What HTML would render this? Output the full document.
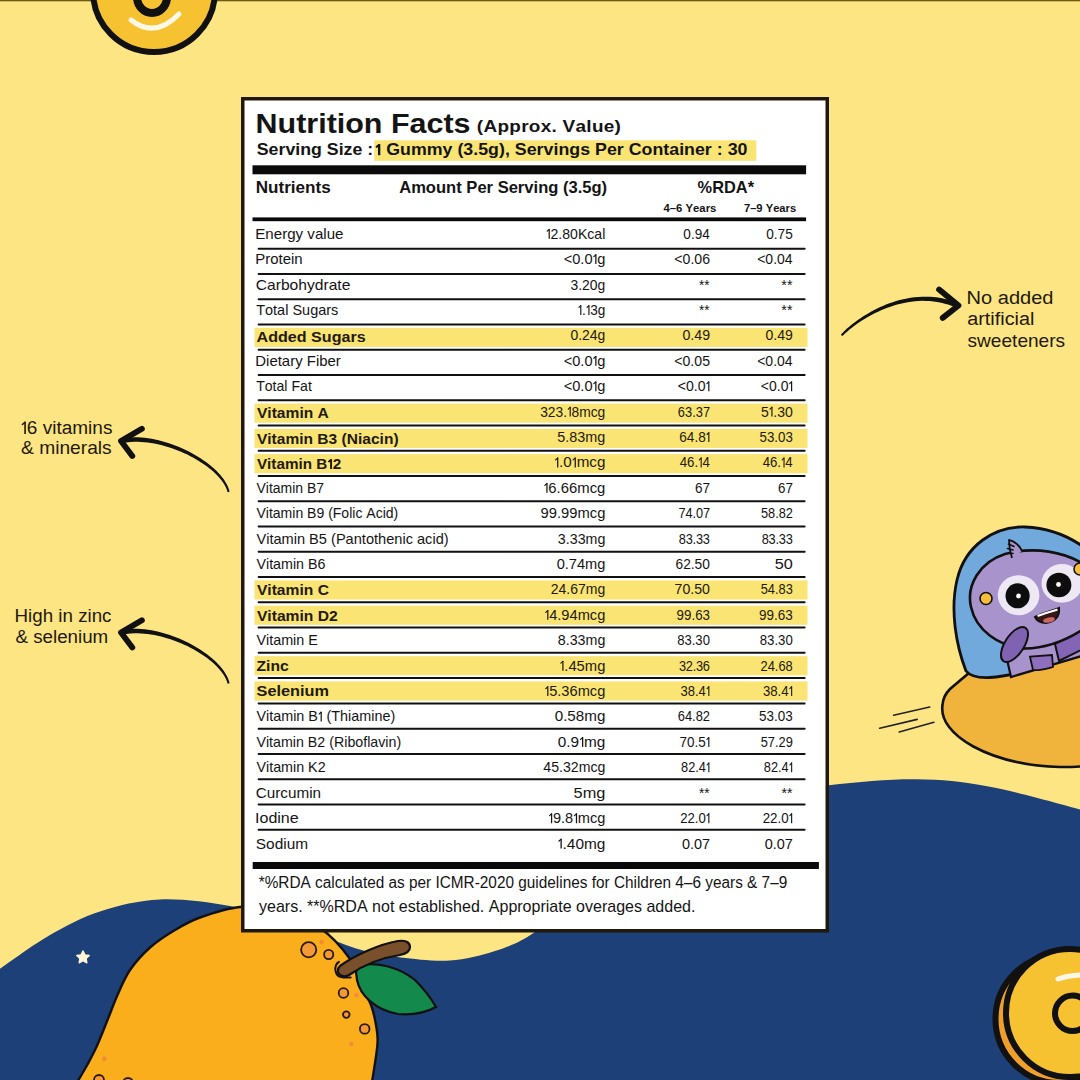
<!DOCTYPE html>
<html><head><meta charset="utf-8"><style>html,body{margin:0;padding:0;background:#FDE584;}svg{display:block;}</style></head>
<body><svg width="1080" height="1080" viewBox="0 0 1080 1080" font-family='"Liberation Sans", sans-serif'>
<rect width="1080" height="1080" fill="#FDE584"/>
<rect width="1080" height="1.3" fill="#6e5a14"/>
<!-- top-left donut -->
<g>
<circle cx="154" cy="-9" r="61" fill="#F7C232" stroke="#111" stroke-width="6"/>
<ellipse cx="152" cy="-3" rx="15" ry="16" fill="none" stroke="#111" stroke-width="8"/>
<path d="M131,20 Q155,39 179,14" fill="none" stroke="#FFF8E6" stroke-width="5" stroke-linecap="round"/>
</g>
<!-- navy wave -->
<path d="M-2.00,970.20 C-1.67,969.96 -8.67,974.62 0.00,968.75 C8.67,962.88 33.33,944.54 50.00,935.00 C66.67,925.46 81.67,917.42 100.00,911.50 C118.33,905.58 138.33,900.42 160.00,899.50 C181.67,898.58 208.33,902.25 230.00,906.00 C251.67,909.75 272.83,916.33 290.00,922.00 C307.17,927.67 320.67,935.22 333.00,940.00 C345.33,944.78 352.67,947.80 364.00,950.70 C375.33,953.60 386.67,955.78 401.00,957.40 C415.33,959.02 434.33,961.47 450.00,960.40 C465.67,959.33 480.83,955.73 495.00,951.00 C509.17,946.27 517.50,943.83 535.00,932.00 C552.50,920.17 565.83,902.00 600.00,880.00 C634.17,858.00 701.83,815.78 740.00,800.00 C778.17,784.22 799.67,788.75 829.00,785.30 C858.33,781.85 889.42,779.10 916.00,779.30 C942.58,779.50 961.17,781.48 988.50,786.50 C1015.83,791.52 1063.08,804.98 1080.00,809.40 C1096.92,813.82 1088.33,812.40 1090.00,813.00 L1090,1090 L-2,1090 Z" fill="#1D4079"/>
<!-- star -->
<path d="" />
<polygon points="83.00,951.00 84.88,954.91 89.18,955.49 86.04,958.49 86.82,962.76 83.00,960.70 79.18,962.76 79.96,958.49 76.82,955.49 81.12,954.91" fill="#FFF6D8" stroke="#FFF6D8" stroke-width="1.5" stroke-linejoin="round"/>
<!-- mango -->
<path d="M72.00,1088.00 C73.33,1086.25 76.17,1083.83 80.00,1077.50 C83.83,1071.17 90.42,1059.58 95.00,1050.00 C99.58,1040.42 103.75,1029.17 107.50,1020.00 C111.25,1010.83 113.75,1003.33 117.50,995.00 C121.25,986.67 124.58,977.92 130.00,970.00 C135.42,962.08 142.50,954.17 150.00,947.50 C157.50,940.83 166.67,935.00 175.00,930.00 C183.33,925.00 189.17,921.33 200.00,917.50 C210.83,913.67 226.67,908.25 240.00,907.00 C253.33,905.75 266.67,906.50 280.00,910.00 C293.33,913.50 308.45,920.00 320.00,928.00 C331.55,936.00 342.47,948.50 349.30,958.00 C356.13,967.50 357.38,977.17 361.00,985.00 C364.62,992.83 368.50,998.33 371.00,1005.00 C373.50,1011.67 374.93,1018.33 376.00,1025.00 C377.07,1031.67 378.23,1034.50 377.40,1045.00 C376.57,1055.50 372.07,1080.83 371.00,1088.00 Z" fill="#FBAE1C" stroke="#111" stroke-width="2.4"/>
<g fill="#F39A36" stroke="#2a1a0a" stroke-width="1.8">
<circle cx="308.7" cy="949.8" r="7.6"/>
<circle cx="328.7" cy="954.5" r="4.6"/>
<circle cx="343.5" cy="993" r="4.8"/>
<circle cx="346.3" cy="1014.6" r="3.3"/>
<circle cx="364.7" cy="1028.9" r="4.8"/>
<circle cx="99" cy="1080" r="5"/>
<circle cx="128" cy="1083" r="5"/>
</g>
<g fill="#F38B3A">
<circle cx="321.7" cy="942" r="2.2"/><circle cx="356.4" cy="995" r="2.2"/><circle cx="351.3" cy="1044" r="2.2"/>
<circle cx="104.4" cy="1059" r="2.4"/>
</g>
<!-- leaf & stem -->
<path d="M356.7,966.3 C375,960 400,968 415,980 C425,990 432,1000 436,1007 C425,1013 410,1015 398,1014 C375,1010 360,995 357,980 C356,975 356,970 356.7,966.3 Z" fill="#138A4B" stroke="#111" stroke-width="2.2"/>
<path d="M340,966 C355,955 380,944 398,941 C405,940 410,942 410,947 C410,952 405,954 400,955 C380,958 362,966 349,975 C344,978 337,975 338,970 C338,968 339,967 340,966 Z" fill="#7A4F2C" stroke="#111" stroke-width="2.2"/>
<path d="M338.9,961.9 C333,966 335,976 341,977 C345,978 348,977.5 350.7,977.4" fill="none" stroke="#111" stroke-width="2" stroke-linecap="round"/>
<!-- bottom right donut -->
<circle cx="1059.5" cy="1019" r="64" fill="#EFA02C" stroke="#111" stroke-width="6"/>
<circle cx="1070" cy="1013" r="64" fill="#F7C232" stroke="#111" stroke-width="6"/>
<circle cx="1072.7" cy="1013.3" r="17.7" fill="none" stroke="#111" stroke-width="6"/>
<path d="M1058,979 Q1070,975 1085,975" fill="none" stroke="#FFF8E6" stroke-width="5" stroke-linecap="round"/>
<!-- UFO -->
<path d="M942.5,705 C938,735 990,765 1060,767 C1070,767 1078,767 1085,766 L1085,648 C1030,656 990,666 969,673 L950,689 C946,693 943,698 942.5,705 Z" fill="#F0B43C" stroke="#111" stroke-width="2.6"/>
<path d="M893.6,715.3 L929.7,707 M879.7,728.3 L917.2,719.4 M899.2,732 L933.9,722.2" stroke="#222" stroke-width="1.6" stroke-linecap="round"/>
<!-- helmet -->
<path d="M966,671 C956,645 950,610 957,580 C965,545 995,526 1025,527 C1050,528 1070,537 1085,548 L1085,654 C1050,664 1015,676 990,677.5 C980,678 970,676 966,671 Z" fill="#71A9DD" stroke="#111" stroke-width="2.8"/>
<!-- body -->
<path d="M1006,655 L1011,677 L1085,655 L1085,626 Z" fill="#A993CD" stroke="#111" stroke-width="2.2"/>
<path d="M1030,656.7 L1052,655 L1053,667 C1045,669 1038,671 1033,670 Z" fill="#8E6FBE" stroke="#111" stroke-width="1.8"/>
<path d="M1055,644 L1085,627 L1085,648 L1059,661 Z" fill="#8465B5" stroke="#111" stroke-width="2"/>
<!-- head -->
<path d="M1085,565 C1065,552 1035,546 1005,554 C980,562 966,585 971,607 C976,630 998,646 1025,648.5 C1050,648 1070,638 1085,628 Z" fill="#A993CD" stroke="#111" stroke-width="2.6"/>
<path d="M1012,558 C1010,552 1009,546 1009,540 C1014,541 1019,545 1022,551" fill="#A993CD" stroke="#111" stroke-width="1.8" stroke-linejoin="round"/>
<path d="M1008.5,544 L1014,546.5 M1007.5,548.5 L1013,550 M1009,553 L1013,553.5" stroke="#111" stroke-width="1.6" stroke-linecap="round"/>
<ellipse cx="1018.6" cy="595.2" rx="20.8" ry="20" fill="#EEE8F4"/>
<ellipse cx="1017.6" cy="595.8" rx="12.1" ry="12.5" fill="#0d0d0d"/>
<circle cx="1018.5" cy="596" r="2.4" fill="#fff"/>
<ellipse cx="1062" cy="583.4" rx="20.5" ry="19.4" fill="#EEE8F4"/>
<ellipse cx="1058.9" cy="585" rx="12.5" ry="12.2" fill="#0d0d0d"/>
<circle cx="1058.5" cy="584.5" r="2.4" fill="#fff"/>
<circle cx="986" cy="598.5" r="6" fill="#F5BE3A" stroke="#111" stroke-width="1.6"/>
<circle cx="1080" cy="569" r="6" fill="#F5BE3A" stroke="#111" stroke-width="1.6"/>
<path d="M1035,617 C1045,612 1055,610 1059,608 C1060,616 1055,622 1046,623 C1040,623 1036,620 1035,617 Z" fill="#3a1616" stroke="#111" stroke-width="2"/>
<ellipse cx="1049" cy="620" rx="6" ry="2.6" transform="rotate(-12 1049 620)" fill="#C8675F"/>
<path d="M1037.5,616 C1046,613 1053,611 1057.5,609.5" fill="none" stroke="#fff" stroke-width="2.2"/>
<ellipse cx="1014.5" cy="644.5" rx="9.5" ry="20" transform="rotate(33 1014.5 644.5)" fill="#8062B2" stroke="#111" stroke-width="2"/>
<!-- arrows -->
<path d="M229.56,491.73 L229.01,489.62 L228.24,487.46 L227.28,485.30 L226.14,483.13 L224.83,480.97 L223.35,478.82 L221.70,476.68 L219.91,474.55 L217.97,472.44 L215.89,470.35 L213.67,468.29 L211.33,466.26 L208.87,464.26 L206.30,462.30 L203.62,460.38 L200.84,458.51 L197.97,456.69 L195.01,454.93 L191.97,453.22 L188.86,451.58 L185.68,450.00 L182.44,448.50 L179.15,447.07 L175.80,445.72 L172.42,444.45 L169.00,443.27 L165.56,442.19 L162.09,441.20 L158.61,440.31 L155.11,439.53 L151.62,438.86 L148.12,438.30 L144.64,437.87 L141.17,437.55 L137.72,437.37 L134.30,437.32 L130.92,437.40 L127.57,437.63 L124.27,438.01 L121.09,438.54 L121.91,443.26 L124.97,442.69 L128.05,442.27 L131.18,441.99 L134.37,441.84 L137.61,441.82 L140.90,441.93 L144.22,442.16 L147.57,442.51 L150.94,442.98 L154.32,443.55 L157.71,444.24 L161.10,445.03 L164.48,445.93 L167.84,446.91 L171.19,447.99 L174.50,449.16 L177.78,450.41 L181.02,451.74 L184.21,453.15 L187.34,454.62 L190.41,456.16 L193.41,457.77 L196.33,459.43 L199.16,461.14 L201.91,462.91 L204.56,464.72 L207.10,466.57 L209.53,468.45 L211.84,470.37 L214.03,472.31 L216.09,474.28 L218.01,476.26 L219.78,478.26 L221.41,480.27 L222.87,482.28 L224.17,484.29 L225.31,486.29 L226.26,488.29 L227.04,490.27 L227.64,492.27Z" fill="#111"/><path d="M141.9,428.8 L121,441.0 L132.3,455.9" fill="none" stroke="#111" stroke-width="5.8" stroke-linecap="round" stroke-linejoin="round"/><path d="M229.56,683.23 L229.01,681.12 L228.24,678.96 L227.28,676.80 L226.14,674.63 L224.83,672.47 L223.35,670.32 L221.70,668.18 L219.91,666.05 L217.97,663.94 L215.89,661.85 L213.67,659.79 L211.33,657.76 L208.87,655.76 L206.30,653.80 L203.62,651.88 L200.84,650.01 L197.97,648.19 L195.01,646.43 L191.97,644.72 L188.86,643.08 L185.68,641.50 L182.44,640.00 L179.15,638.57 L175.80,637.22 L172.42,635.95 L169.00,634.77 L165.56,633.69 L162.09,632.70 L158.61,631.81 L155.11,631.03 L151.62,630.36 L148.12,629.80 L144.64,629.37 L141.17,629.05 L137.72,628.87 L134.30,628.82 L130.92,628.90 L127.57,629.13 L124.27,629.51 L121.09,630.04 L121.91,634.76 L124.97,634.19 L128.05,633.77 L131.18,633.49 L134.37,633.34 L137.61,633.32 L140.90,633.43 L144.22,633.66 L147.57,634.01 L150.94,634.48 L154.32,635.05 L157.71,635.74 L161.10,636.53 L164.48,637.43 L167.84,638.41 L171.19,639.49 L174.50,640.66 L177.78,641.91 L181.02,643.24 L184.21,644.65 L187.34,646.12 L190.41,647.66 L193.41,649.27 L196.33,650.93 L199.16,652.64 L201.91,654.41 L204.56,656.22 L207.10,658.07 L209.53,659.95 L211.84,661.87 L214.03,663.81 L216.09,665.78 L218.01,667.76 L219.78,669.76 L221.41,671.77 L222.87,673.78 L224.17,675.79 L225.31,677.79 L226.26,679.79 L227.04,681.77 L227.64,683.77Z" fill="#111"/><path d="M141.9,620.3 L121,632.5 L132.3,647.4" fill="none" stroke="#111" stroke-width="5.8" stroke-linecap="round" stroke-linejoin="round"/><path d="M842.34,336.08 L843.22,335.16 L844.25,334.15 L845.43,333.06 L846.75,331.88 L848.20,330.63 L849.80,329.31 L851.53,327.94 L853.38,326.53 L855.36,325.07 L857.46,323.59 L859.67,322.08 L861.99,320.57 L864.43,319.05 L866.97,317.53 L869.60,316.03 L872.34,314.56 L875.16,313.11 L878.08,311.70 L881.08,310.34 L884.16,309.04 L887.31,307.81 L890.54,306.64 L893.84,305.56 L897.20,304.57 L900.62,303.68 L904.09,302.90 L907.62,302.23 L911.20,301.68 L914.82,301.27 L918.48,301.00 L922.18,300.87 L925.92,300.90 L929.68,301.09 L933.47,301.46 L937.28,302.00 L941.11,302.73 L944.95,303.66 L948.81,304.80 L952.68,306.14 L956.62,307.73 L958.38,303.27 L954.31,301.70 L950.20,300.35 L946.10,299.22 L942.02,298.31 L937.97,297.61 L933.95,297.10 L929.96,296.79 L926.00,296.66 L922.09,296.70 L918.22,296.90 L914.40,297.26 L910.64,297.76 L906.93,298.40 L903.28,299.17 L899.70,300.05 L896.18,301.04 L892.73,302.13 L889.36,303.31 L886.06,304.57 L882.84,305.91 L879.71,307.31 L876.67,308.76 L873.71,310.27 L870.86,311.81 L868.10,313.38 L865.44,314.97 L862.88,316.58 L860.44,318.19 L858.11,319.80 L855.89,321.39 L853.79,322.96 L851.82,324.50 L849.97,326.00 L848.25,327.46 L846.66,328.86 L845.21,330.19 L843.90,331.46 L842.74,332.64 L841.72,333.74 L840.86,334.72Z" fill="#111"/><path d="M939.1,289.6 L958.5,305.5 L942.7,317.9" fill="none" stroke="#111" stroke-width="5.8" stroke-linecap="round" stroke-linejoin="round"/>
<!-- box -->
<rect x="242.75" y="98.75" width="584.5" height="832" fill="#fff" stroke="#21180c" stroke-width="3.5"/>
<rect x="374.3" y="140.3" width="382" height="20.5" fill="#FAE474"/>
<rect x="252.5" y="165.3" width="553.6" height="9" fill="#0a0a0a"/>
<rect x="252.5" y="217.4" width="553.6" height="3.8" fill="#0a0a0a"/>
<rect x="252.7" y="862" width="566.2" height="7" fill="#0a0a0a"/>
<rect x="254.5" y="327.78" width="553" height="19.16" fill="#FAE474"/><rect x="254.5" y="403.56" width="553" height="19.16" fill="#FAE474"/><rect x="254.5" y="428.82" width="553" height="19.16" fill="#FAE474"/><rect x="254.5" y="454.08" width="553" height="19.16" fill="#FAE474"/><rect x="254.5" y="580.38" width="553" height="19.16" fill="#FAE474"/><rect x="254.5" y="605.64" width="553" height="19.16" fill="#FAE474"/><rect x="254.5" y="656.16" width="553" height="19.16" fill="#FAE474"/><rect x="254.5" y="681.42" width="553" height="19.16" fill="#FAE474"/><line x1="258.6" y1="248.70" x2="804.6" y2="248.70" stroke="#111" stroke-width="2" stroke-linecap="round"/><line x1="258.6" y1="273.96" x2="804.6" y2="273.96" stroke="#111" stroke-width="2" stroke-linecap="round"/><line x1="258.6" y1="299.22" x2="804.6" y2="299.22" stroke="#111" stroke-width="2" stroke-linecap="round"/><line x1="258.6" y1="324.48" x2="804.6" y2="324.48" stroke="#111" stroke-width="2" stroke-linecap="round"/><line x1="258.6" y1="349.74" x2="804.6" y2="349.74" stroke="#111" stroke-width="2" stroke-linecap="round"/><line x1="258.6" y1="375.00" x2="804.6" y2="375.00" stroke="#111" stroke-width="2" stroke-linecap="round"/><line x1="258.6" y1="400.26" x2="804.6" y2="400.26" stroke="#111" stroke-width="2" stroke-linecap="round"/><line x1="258.6" y1="425.52" x2="804.6" y2="425.52" stroke="#111" stroke-width="2" stroke-linecap="round"/><line x1="258.6" y1="450.78" x2="804.6" y2="450.78" stroke="#111" stroke-width="2" stroke-linecap="round"/><line x1="258.6" y1="476.04" x2="804.6" y2="476.04" stroke="#111" stroke-width="2" stroke-linecap="round"/><line x1="258.6" y1="501.30" x2="804.6" y2="501.30" stroke="#111" stroke-width="2" stroke-linecap="round"/><line x1="258.6" y1="526.56" x2="804.6" y2="526.56" stroke="#111" stroke-width="2" stroke-linecap="round"/><line x1="258.6" y1="551.82" x2="804.6" y2="551.82" stroke="#111" stroke-width="2" stroke-linecap="round"/><line x1="258.6" y1="577.08" x2="804.6" y2="577.08" stroke="#111" stroke-width="2" stroke-linecap="round"/><line x1="258.6" y1="602.34" x2="804.6" y2="602.34" stroke="#111" stroke-width="2" stroke-linecap="round"/><line x1="258.6" y1="627.60" x2="804.6" y2="627.60" stroke="#111" stroke-width="2" stroke-linecap="round"/><line x1="258.6" y1="652.86" x2="804.6" y2="652.86" stroke="#111" stroke-width="2" stroke-linecap="round"/><line x1="258.6" y1="678.12" x2="804.6" y2="678.12" stroke="#111" stroke-width="2" stroke-linecap="round"/><line x1="258.6" y1="703.38" x2="804.6" y2="703.38" stroke="#111" stroke-width="2" stroke-linecap="round"/><line x1="258.6" y1="728.64" x2="804.6" y2="728.64" stroke="#111" stroke-width="2" stroke-linecap="round"/><line x1="258.6" y1="753.90" x2="804.6" y2="753.90" stroke="#111" stroke-width="2" stroke-linecap="round"/><line x1="258.6" y1="779.16" x2="804.6" y2="779.16" stroke="#111" stroke-width="2" stroke-linecap="round"/><line x1="258.6" y1="804.42" x2="804.6" y2="804.42" stroke="#111" stroke-width="2" stroke-linecap="round"/><line x1="258.6" y1="829.68" x2="804.6" y2="829.68" stroke="#111" stroke-width="2" stroke-linecap="round"/>
<g transform="translate(255.56 132.6) scale(1.0882 1)" fill="#141414"><text x="0 20.22 37.32 46.65 57.54 65.32 74.65 82.43 99.53 124.41 141.52 157.09 172.66 181.99" font-size="28" font-weight="bold">NutritionFacts</text></g><g transform="translate(476.85 132.2) scale(1.1500 1)" fill="#141414"><text x="0 5.74 17.89 28.21 38.53 45.19 55.51 64.93 74.58 85.82 95.24 100.06 110.38 119.8" font-size="16.5" font-weight="bold">(Approx.Value)</text></g><g transform="translate(256.79 155.2) scale(1.1096 1)" fill="#141414"><text x="0 10.67 19.57 25.8 34.7 39.14 48.91 63.13 73.8 78.25 86.25 99.59" font-size="16" font-weight="bold">ServingSize:</text></g><g transform="translate(374.81 155.2) scale(1.1132 1)" fill="#141414"><text x="10.21 22.65 32.42 46.65 60.88 74.22 79.55 88.45 92.89 101.79 111.56 116.89 125.78 136.46 145.35 151.58 160.48 164.92 174.7 184.47 197.81 208.49 217.38 228.06 239.61 249.38 259.16 264.49 273.38 277.83 287.6 296.5 307.17 316.95 325.85" font-size="16" font-weight="bold">Gummy(3.5g),ServingsPerContainer:30</text><path d="M2.88,-11.01H4.96V0H2.88Z"/><path d="M1.74,-8.45L3.71,-10.07" fill="none" stroke="#141414" stroke-width="1.98" stroke-linecap="round"/></g><g transform="translate(255.66 193.1) scale(1.0362 1)" fill="#141414"><text x="0 11.92 21.99 27.49 33.91 38.49 47.67 57.75 63.24" font-size="16.5" font-weight="bold">Nutrients</text></g><g transform="translate(399.19 193) scale(1.0036 1)" fill="#141414"><text x="0 11.92 26.59 36.67 46.74 56.82 66.9 77.91 87.08 98.09 109.09 118.27 124.69 133.87 138.45 148.53 163.2 168.69 177.87 182.45 191.63 201.71" font-size="16.5" font-weight="bold">AmountPerServing(3.5g)</text></g><g transform="translate(697.59 192.8) scale(0.9927 1)" fill="#141414"><text x="0 14.67 26.59 38.5 50.42" font-size="16.5" font-weight="bold">%RDA*</text></g><g transform="translate(663.53 211.8) scale(0.9586 1)" fill="#141414"><text x="0 6.56 13.13 22.97 30.84 37.4 43.96 48.55" font-size="11.8" font-weight="bold">4–6Years</text></g><g transform="translate(743.92 211.8) scale(0.9478 1)" fill="#141414"><text x="0 6.56 13.13 22.97 30.84 37.4 43.96 48.55" font-size="11.8" font-weight="bold">7–9Years</text></g><g transform="translate(255.26 238.7) scale(1.0643 1)" fill="#141414"><text x="0 9.47 17.37 25.27 29.99 37.89 48.94 56.04 63.93 67.09 74.99" font-size="14.2">Energyvalue</text></g><g transform="translate(546 238.7) scale(0.9923 1)" fill="#141414"><text x="4.54 12.44 16.39 24.28 32.18 41.65 48.75 56.65" font-size="14.2">2.80Kcal</text><path d="M2.63,-9.77H3.83V0H2.63Z"/><path d="M1.25,-7.5L3.11,-9.23" fill="none" stroke="#141414" stroke-width="1.15" stroke-linecap="round"/></g><g transform="translate(683.37 238.7) scale(0.9563 1)" fill="#141414"><text x="0 7.9 11.84 19.74" font-size="14.2">0.94</text></g><g transform="translate(766.27 238.7) scale(0.9590 1)" fill="#141414"><text x="0 7.9 11.84 19.74" font-size="14.2">0.75</text></g><g transform="translate(255.27 264.11) scale(1.0535 1)" fill="#141414"><text x="0 9.47 14.2 22.1 26.04 33.94 37.09" font-size="14.2">Protein</text></g><g transform="translate(563.68 264.11) scale(1.0294 1)" fill="#141414"><text x="0 8.29 16.19 20.14 32.58" font-size="14.2">&lt;0.0g</text><path d="M30.66,-9.77H31.87V0H30.66Z"/><path d="M29.29,-7.5L31.14,-9.23" fill="none" stroke="#141414" stroke-width="1.15" stroke-linecap="round"/></g><g transform="translate(674.3 264.11) scale(0.9941 1)" fill="#141414"><text x="0 8.29 16.19 20.14 28.03" font-size="14.2">&lt;0.06</text></g><g transform="translate(757.21 264.11) scale(0.9852 1)" fill="#141414"><text x="0 8.29 16.19 20.14 28.03" font-size="14.2">&lt;0.04</text></g><g transform="translate(255.71 289.52) scale(1.1005 1)" fill="#141414"><text x="0 10.25 18.15 22.88 30.78 38.68 46.57 53.67 61.57 66.3 74.2 78.14" font-size="14.2">Carbohydrate</text></g><g transform="translate(570.47 289.52) scale(0.9801 1)" fill="#141414"><text x="0 7.9 11.84 19.74 27.64" font-size="14.2">3.20g</text></g><g transform="translate(699.08 289.52) scale(0.9527 1)" fill="#141414"><text x="0 5.53" font-size="14.2">**</text></g><g transform="translate(781.37 289.52) scale(0.9999 1)" fill="#141414"><text x="0 5.53" font-size="14.2">**</text></g><g transform="translate(256.17 314.93) scale(1.0204 1)" fill="#141414"><text x="0 8.67 16.57 20.52 28.41 35.51 44.99 52.88 60.78 68.68 73.41" font-size="14.2">TotalSugars</text></g><g transform="translate(577.72 314.93) scale(0.9558 1)" fill="#141414"><text x="4.54 13.03 20.93" font-size="14.2">.3g</text><path d="M2.63,-9.77H3.83V0H2.63ZM11.12,-9.77H12.32V0H11.12Z"/><path d="M1.25,-7.5L3.11,-9.23M9.74,-7.5L11.6,-9.23" fill="none" stroke="#141414" stroke-width="1.15" stroke-linecap="round"/></g><g transform="translate(699.08 314.93) scale(0.9527 1)" fill="#141414"><text x="0 5.53" font-size="14.2">**</text></g><g transform="translate(781.37 314.93) scale(0.9999 1)" fill="#141414"><text x="0 5.53" font-size="14.2">**</text></g><g transform="translate(256.6 341.94) scale(1.1330 1)" fill="#231a0c"><text x="0 10.25 18.93 27.6 35.5 48.12 57.59 66.26 74.94 82.84 88.36" font-size="14.2" font-weight="bold">AddedSugars</text></g><g transform="translate(570.46 340.34) scale(0.9805 1)" fill="#231a0c"><text x="0 7.9 11.84 19.74 27.64" font-size="14.2">0.24g</text></g><g transform="translate(682.45 340.34) scale(0.9996 1)" fill="#231a0c"><text x="0 7.9 11.84 19.74" font-size="14.2">0.49</text></g><g transform="translate(765.45 340.34) scale(0.9920 1)" fill="#231a0c"><text x="0 7.9 11.84 19.74" font-size="14.2">0.49</text></g><g transform="translate(255.27 365.75) scale(1.0529 1)" fill="#141414"><text x="0 10.25 13.41 21.31 25.25 33.15 37.88 48.92 57.6 60.75 68.65 76.55" font-size="14.2">DietaryFiber</text></g><g transform="translate(563.68 365.75) scale(1.0294 1)" fill="#141414"><text x="0 8.29 16.19 20.14 32.58" font-size="14.2">&lt;0.0g</text><path d="M30.66,-9.77H31.87V0H30.66Z"/><path d="M29.29,-7.5L31.14,-9.23" fill="none" stroke="#141414" stroke-width="1.15" stroke-linecap="round"/></g><g transform="translate(674.3 365.75) scale(0.9933 1)" fill="#141414"><text x="0 8.29 16.19 20.14 28.03" font-size="14.2">&lt;0.05</text></g><g transform="translate(757.21 365.75) scale(0.9852 1)" fill="#141414"><text x="0 8.29 16.19 20.14 28.03" font-size="14.2">&lt;0.04</text></g><g transform="translate(256.18 391.16) scale(0.9927 1)" fill="#141414"><text x="0 8.67 16.57 20.52 28.41 35.51 44.19 52.09" font-size="14.2">TotalFat</text></g><g transform="translate(563.68 391.16) scale(1.0294 1)" fill="#141414"><text x="0 8.29 16.19 20.14 32.58" font-size="14.2">&lt;0.0g</text><path d="M30.66,-9.77H31.87V0H30.66Z"/><path d="M29.29,-7.5L31.14,-9.23" fill="none" stroke="#141414" stroke-width="1.15" stroke-linecap="round"/></g><g transform="translate(677.81 391.16) scale(0.9915 1)" fill="#141414"><text x="0 8.29 16.19 20.14" font-size="14.2">&lt;0.0</text><path d="M30.66,-9.77H31.87V0H30.66Z"/><path d="M29.29,-7.5L31.14,-9.23" fill="none" stroke="#141414" stroke-width="1.15" stroke-linecap="round"/></g><g transform="translate(760.81 391.16) scale(0.9850 1)" fill="#141414"><text x="0 8.29 16.19 20.14" font-size="14.2">&lt;0.0</text><path d="M30.66,-9.77H31.87V0H30.66Z"/><path d="M29.29,-7.5L31.14,-9.23" fill="none" stroke="#141414" stroke-width="1.15" stroke-linecap="round"/></g><g transform="translate(256.89 418.17) scale(1.0997 1)" fill="#231a0c"><text x="0 9.47 13.42 18.15 26.04 38.67 42.61 55.23" font-size="14.2" font-weight="bold">VitaminA</text></g><g transform="translate(540.17 416.57) scale(0.9733 1)" fill="#231a0c"><text x="0 7.9 15.79 23.69 32.18 40.08 51.91 59.01" font-size="14.2">323.8mcg</text><path d="M30.26,-9.77H31.47V0H30.26Z"/><path d="M28.89,-7.5L30.75,-9.23" fill="none" stroke="#231a0c" stroke-width="1.15" stroke-linecap="round"/></g><g transform="translate(677.85 416.57) scale(0.9062 1)" fill="#231a0c"><text x="0 7.9 15.79 19.74 27.64" font-size="14.2">63.37</text></g><g transform="translate(760.94 416.57) scale(0.9885 1)" fill="#231a0c"><text x="0 12.44 16.39 24.28" font-size="14.2">5.30</text><path d="M10.52,-9.77H11.73V0H10.52Z"/><path d="M9.15,-7.5L11.01,-9.23" fill="none" stroke="#231a0c" stroke-width="1.15" stroke-linecap="round"/></g><g transform="translate(256.89 443.58) scale(1.0949 1)" fill="#231a0c"><text x="0 9.47 13.42 18.15 26.04 38.67 42.61 55.23 65.49 77.33 82.06 92.31 96.26 104.16 112.05 116 124.67" font-size="14.2" font-weight="bold">VitaminB3(Niacin)</text></g><g transform="translate(557.32 441.98) scale(1.0135 1)" fill="#231a0c"><text x="0 7.9 11.84 19.74 27.64 39.47" font-size="14.2">5.83mg</text></g><g transform="translate(679.31 441.98) scale(0.9561 1)" fill="#231a0c"><text x="0 7.9 15.79 19.74" font-size="14.2">64.8</text><path d="M30.26,-9.77H31.47V0H30.26Z"/><path d="M28.89,-7.5L30.75,-9.23" fill="none" stroke="#231a0c" stroke-width="1.15" stroke-linecap="round"/></g><g transform="translate(759.47 441.98) scale(0.9376 1)" fill="#231a0c"><text x="0 7.9 15.79 19.74 27.64" font-size="14.2">53.03</text></g><g transform="translate(256.9 468.99) scale(1.0754 1)" fill="#231a0c"><text x="0 9.47 13.42 18.15 26.04 38.67 42.61 55.23 70.6" font-size="14.2" font-weight="bold">VitaminB2</text><path d="M68.04,-9.77H69.89V0H68.04Z"/><path d="M67.03,-7.5L68.78,-8.94" fill="none" stroke="#231a0c" stroke-width="1.75" stroke-linecap="round"/></g><g transform="translate(554.24 467.39) scale(1.0709 1)" fill="#231a0c"><text x="4.54 8.49 20.93 32.76 39.86" font-size="14.2">.0mcg</text><path d="M2.63,-9.77H3.83V0H2.63ZM19.01,-9.77H20.22V0H19.01Z"/><path d="M1.25,-7.5L3.11,-9.23M17.64,-7.5L19.5,-9.23" fill="none" stroke="#231a0c" stroke-width="1.15" stroke-linecap="round"/></g><g transform="translate(679.7 467.39) scale(0.9351 1)" fill="#231a0c"><text x="0 7.9 15.79 24.28" font-size="14.2">46.4</text><path d="M22.37,-9.77H23.57V0H22.37Z"/><path d="M20.99,-7.5L22.85,-9.23" fill="none" stroke="#231a0c" stroke-width="1.15" stroke-linecap="round"/></g><g transform="translate(762.7 467.39) scale(0.9288 1)" fill="#231a0c"><text x="0 7.9 15.79 24.28" font-size="14.2">46.4</text><path d="M22.37,-9.77H23.57V0H22.37Z"/><path d="M20.99,-7.5L22.85,-9.23" fill="none" stroke="#231a0c" stroke-width="1.15" stroke-linecap="round"/></g><g transform="translate(256.44 492.8) scale(0.9855 1)" fill="#141414"><text x="0 9.47 12.63 16.57 24.47 36.3 39.45 51.29 60.77" font-size="14.2">VitaminB7</text></g><g transform="translate(543.56 492.8) scale(1.0474 1)" fill="#141414"><text x="4.54 12.44 16.39 24.28 32.18 44.01 51.11" font-size="14.2">6.66mcg</text><path d="M2.63,-9.77H3.83V0H2.63Z"/><path d="M1.25,-7.5L3.11,-9.23" fill="none" stroke="#141414" stroke-width="1.15" stroke-linecap="round"/></g><g transform="translate(695.01 492.8) scale(0.9541 1)" fill="#141414"><text x="0 7.9" font-size="14.2">67</text></g><g transform="translate(778.02 492.8) scale(0.9401 1)" fill="#141414"><text x="0 7.9" font-size="14.2">67</text></g><g transform="translate(256.44 518.21) scale(0.9876 1)" fill="#141414"><text x="0 9.47 12.63 16.57 24.47 36.3 39.45 51.29 60.77 72.61 77.34 86.01 93.91 97.06 100.22 111.26 120.73 127.83 130.99 138.89" font-size="14.2">VitaminB9(FolicAcid)</text></g><g transform="translate(540.61 518.21) scale(1.0382 1)" fill="#141414"><text x="0 7.9 15.79 19.74 27.64 35.53 47.36 54.46" font-size="14.2">99.99mcg</text></g><g transform="translate(678.44 518.21) scale(0.9000 1)" fill="#141414"><text x="0 7.79 15.58 19.42 27.21" font-size="14.2">74.07</text></g><g transform="translate(760.99 518.21) scale(0.9000 1)" fill="#141414"><text x="0 7.86 15.72 19.63 27.5" font-size="14.2">58.82</text></g><g transform="translate(256.44 543.62) scale(1.0273 1)" fill="#141414"><text x="0 9.47 12.63 16.57 24.47 36.3 39.45 51.29 60.77 72.61 77.34 86.81 94.71 102.6 106.55 114.45 118.39 126.29 134.19 142.08 145.24 156.28 164.18 171.28 174.44 182.33" font-size="14.2">VitaminB5(Pantothenicacid)</text></g><g transform="translate(557.86 543.62) scale(1.0020 1)" fill="#141414"><text x="0 7.9 11.84 19.74 27.64 39.47" font-size="14.2">3.33mg</text></g><g transform="translate(678.84 543.62) scale(0.9000 1)" fill="#141414"><text x="0 7.66 15.31 19.02 26.68" font-size="14.2">83.33</text></g><g transform="translate(761.64 543.62) scale(0.9000 1)" fill="#141414"><text x="0 7.66 15.31 19.02 26.68" font-size="14.2">83.33</text></g><g transform="translate(256.44 569.03) scale(1.0062 1)" fill="#141414"><text x="0 9.47 12.63 16.57 24.47 36.3 39.45 51.29 60.77" font-size="14.2">VitaminB6</text></g><g transform="translate(556.63 569.03) scale(1.0285 1)" fill="#141414"><text x="0 7.9 11.84 19.74 27.64 39.47" font-size="14.2">0.74mg</text></g><g transform="translate(675.5 569.03) scale(0.9691 1)" fill="#141414"><text x="0 7.9 15.79 19.74 27.64" font-size="14.2">62.50</text></g><g transform="translate(774.75 569.03) scale(1.1451 1)" fill="#141414"><text x="0 7.9" font-size="14.2">50</text></g><g transform="translate(256.89 595.34) scale(1.1000 1)" fill="#231a0c"><text x="0 9.47 13.42 18.15 26.04 38.67 42.61 55.23" font-size="14.2" font-weight="bold">VitaminC</text></g><g transform="translate(550.8 594.44) scale(0.9864 1)" fill="#231a0c"><text x="0 7.9 15.79 19.74 27.64 35.53 47.36" font-size="14.2">24.67mg</text></g><g transform="translate(674.58 594.44) scale(0.9956 1)" fill="#231a0c"><text x="0 7.9 15.79 19.74 27.64" font-size="14.2">70.50</text></g><g transform="translate(760.69 594.44) scale(0.9027 1)" fill="#231a0c"><text x="0 7.9 15.79 19.74 27.64" font-size="14.2">54.83</text></g><g transform="translate(256.89 620.75) scale(1.1029 1)" fill="#231a0c"><text x="0 9.47 13.42 18.15 26.04 38.67 42.61 55.23 65.49" font-size="14.2" font-weight="bold">VitaminD2</text></g><g transform="translate(544.47 619.85) scale(1.0317 1)" fill="#231a0c"><text x="4.54 12.44 16.39 24.28 32.18 44.01 51.11" font-size="14.2">4.94mcg</text><path d="M2.63,-9.77H3.83V0H2.63Z"/><path d="M1.25,-7.5L3.11,-9.23" fill="none" stroke="#231a0c" stroke-width="1.15" stroke-linecap="round"/></g><g transform="translate(676.57 619.85) scale(0.9403 1)" fill="#231a0c"><text x="0 7.9 15.79 19.74 27.64" font-size="14.2">99.63</text></g><g transform="translate(758.97 619.85) scale(0.9520 1)" fill="#231a0c"><text x="0 7.9 15.79 19.74 27.64" font-size="14.2">99.63</text></g><g transform="translate(256.44 645.26) scale(1.0101 1)" fill="#141414"><text x="0 9.47 12.63 16.57 24.47 36.3 39.45 51.29" font-size="14.2">VitaminE</text></g><g transform="translate(557.78 645.26) scale(1.0037 1)" fill="#141414"><text x="0 7.9 11.84 19.74 27.64 39.47" font-size="14.2">8.33mg</text></g><g transform="translate(677.23 645.26) scale(0.9196 1)" fill="#141414"><text x="0 7.9 15.79 19.74 27.64" font-size="14.2">83.30</text></g><g transform="translate(759.73 645.26) scale(0.9283 1)" fill="#141414"><text x="0 7.9 15.79 19.74 27.64" font-size="14.2">83.30</text></g><g transform="translate(256.53 670.87) scale(1.1040 1)" fill="#231a0c"><text x="0 8.67 12.62 21.29" font-size="14.2" font-weight="bold">Zinc</text></g><g transform="translate(559.56 670.67) scale(1.0405 1)" fill="#231a0c"><text x="4.54 8.49 16.39 24.28 36.11" font-size="14.2">.45mg</text><path d="M2.63,-9.77H3.83V0H2.63Z"/><path d="M1.25,-7.5L3.11,-9.23" fill="none" stroke="#231a0c" stroke-width="1.15" stroke-linecap="round"/></g><g transform="translate(678.91 670.67) scale(0.9000 1)" fill="#231a0c"><text x="0 7.64 15.28 18.96 26.6" font-size="14.2">32.36</text></g><g transform="translate(760.55 670.67) scale(0.9063 1)" fill="#231a0c"><text x="0 7.9 15.79 19.74 27.64" font-size="14.2">24.68</text></g><g transform="translate(256.53 696.28) scale(1.1481 1)" fill="#231a0c"><text x="0 9.47 17.37 21.31 29.21 37.89 41.83 50.5" font-size="14.2" font-weight="bold">Selenium</text></g><g transform="translate(544.47 696.08) scale(1.0317 1)" fill="#231a0c"><text x="4.54 12.44 16.39 24.28 32.18 44.01 51.11" font-size="14.2">5.36mcg</text><path d="M2.63,-9.77H3.83V0H2.63Z"/><path d="M1.25,-7.5L3.11,-9.23" fill="none" stroke="#231a0c" stroke-width="1.15" stroke-linecap="round"/></g><g transform="translate(680.4 696.08) scale(0.9214 1)" fill="#231a0c"><text x="0 7.9 15.79 19.74" font-size="14.2">38.4</text><path d="M30.26,-9.77H31.47V0H30.26Z"/><path d="M28.89,-7.5L30.75,-9.23" fill="none" stroke="#231a0c" stroke-width="1.15" stroke-linecap="round"/></g><g transform="translate(762.9 696.08) scale(0.9311 1)" fill="#231a0c"><text x="0 7.9 15.79 19.74" font-size="14.2">38.4</text><path d="M30.26,-9.77H31.47V0H30.26Z"/><path d="M28.89,-7.5L30.75,-9.23" fill="none" stroke="#231a0c" stroke-width="1.15" stroke-linecap="round"/></g><g transform="translate(256.44 721.49) scale(1.0120 1)" fill="#141414"><text x="0 9.47 12.63 16.57 24.47 36.3 39.45 51.29 69.26 73.98 82.66 90.56 93.71 101.61 113.44 116.59 124.49 132.39" font-size="14.2">VitaminB(Thiamine)</text><path d="M63.39,-9.77H64.6V0H63.39Z"/><path d="M62.02,-7.5L63.88,-9.23" fill="none" stroke="#141414" stroke-width="1.15" stroke-linecap="round"/></g><g transform="translate(554.71 721.49) scale(1.0699 1)" fill="#141414"><text x="0 7.9 11.84 19.74 27.64 39.47" font-size="14.2">0.58mg</text></g><g transform="translate(677.74 721.49) scale(0.9091 1)" fill="#141414"><text x="0 7.9 15.79 19.74 27.64" font-size="14.2">64.82</text></g><g transform="translate(759.06 721.49) scale(0.9493 1)" fill="#141414"><text x="0 7.9 15.79 19.74 27.64" font-size="14.2">53.03</text></g><g transform="translate(256.44 746.9) scale(1.0023 1)" fill="#141414"><text x="0 9.47 12.63 16.57 24.47 36.3 39.45 51.29 60.77 72.61 77.34 87.59 90.75 98.64 106.54 110.49 113.64 121.54 128.64 131.79 139.69" font-size="14.2">VitaminB2(Riboflavin)</text></g><g transform="translate(557.8 746.9) scale(1.0813 1)" fill="#141414"><text x="0 7.9 11.84 24.28 36.11" font-size="14.2">0.9mg</text><path d="M22.37,-9.77H23.57V0H22.37Z"/><path d="M20.99,-7.5L22.85,-9.23" fill="none" stroke="#141414" stroke-width="1.15" stroke-linecap="round"/></g><g transform="translate(679.61 746.9) scale(0.9465 1)" fill="#141414"><text x="0 7.9 15.79 19.74" font-size="14.2">70.5</text><path d="M30.26,-9.77H31.47V0H30.26Z"/><path d="M28.89,-7.5L30.75,-9.23" fill="none" stroke="#141414" stroke-width="1.15" stroke-linecap="round"/></g><g transform="translate(760.69 746.9) scale(0.9040 1)" fill="#141414"><text x="0 7.9 15.79 19.74 27.64" font-size="14.2">57.29</text></g><g transform="translate(256.44 772.31) scale(1.0076 1)" fill="#141414"><text x="0 9.47 12.63 16.57 24.47 36.3 39.45 51.29 60.77" font-size="14.2">VitaminK2</text></g><g transform="translate(543.28 772.31) scale(0.9948 1)" fill="#141414"><text x="0 7.9 15.79 19.74 27.64 35.53 47.36 54.46" font-size="14.2">45.32mcg</text></g><g transform="translate(681.04 772.31) scale(0.9010 1)" fill="#141414"><text x="0 7.9 15.79 19.74" font-size="14.2">82.4</text><path d="M30.26,-9.77H31.47V0H30.26Z"/><path d="M28.89,-7.5L30.75,-9.23" fill="none" stroke="#141414" stroke-width="1.15" stroke-linecap="round"/></g><g transform="translate(763.84 772.31) scale(0.9010 1)" fill="#141414"><text x="0 7.9 15.79 19.74" font-size="14.2">82.4</text><path d="M30.26,-9.77H31.47V0H30.26Z"/><path d="M28.89,-7.5L30.75,-9.23" fill="none" stroke="#141414" stroke-width="1.15" stroke-linecap="round"/></g><g transform="translate(255.72 797.72) scale(1.0759 1)" fill="#141414"><text x="0 10.25 18.15 22.88 29.98 37.88 49.71 52.86" font-size="14.2">Curcumin</text></g><g transform="translate(573.55 797.72) scale(1.1500 1)" fill="#141414"><text x="0 7.96 19.85" font-size="14.2">5mg</text></g><g transform="translate(698.98 797.72) scale(0.9621 1)" fill="#141414"><text x="0 5.53" font-size="14.2">**</text></g><g transform="translate(781.47 797.72) scale(0.9904 1)" fill="#141414"><text x="0 5.53" font-size="14.2">**</text></g><g transform="translate(255.02 823.13) scale(1.1293 1)" fill="#141414"><text x="0 3.95 11.84 19.74 22.89 30.79" font-size="14.2">Iodine</text></g><g transform="translate(548.27 823.13) scale(1.0254 1)" fill="#141414"><text x="4.54 12.44 16.39 28.83 40.66 47.76" font-size="14.2">9.8mcg</text><path d="M2.63,-9.77H3.83V0H2.63ZM26.91,-9.77H28.12V0H26.91Z"/><path d="M1.25,-7.5L3.11,-9.23M25.54,-7.5L27.39,-9.23" fill="none" stroke="#141414" stroke-width="1.15" stroke-linecap="round"/></g><g transform="translate(680.24 823.13) scale(0.9266 1)" fill="#141414"><text x="0 7.9 15.79 19.74" font-size="14.2">22.0</text><path d="M30.26,-9.77H31.47V0H30.26Z"/><path d="M28.89,-7.5L30.75,-9.23" fill="none" stroke="#141414" stroke-width="1.15" stroke-linecap="round"/></g><g transform="translate(762.73 823.13) scale(0.9364 1)" fill="#141414"><text x="0 7.9 15.79 19.74" font-size="14.2">22.0</text><path d="M30.26,-9.77H31.47V0H30.26Z"/><path d="M28.89,-7.5L30.75,-9.23" fill="none" stroke="#141414" stroke-width="1.15" stroke-linecap="round"/></g><g transform="translate(255.8 848.54) scale(1.0866 1)" fill="#141414"><text x="0 9.47 17.37 25.27 28.42 36.32" font-size="14.2">Sodium</text></g><g transform="translate(557.63 848.54) scale(1.0853 1)" fill="#141414"><text x="4.54 8.49 16.39 24.28 36.11" font-size="14.2">.40mg</text><path d="M2.63,-9.77H3.83V0H2.63Z"/><path d="M1.25,-7.5L3.11,-9.23" fill="none" stroke="#141414" stroke-width="1.15" stroke-linecap="round"/></g><g transform="translate(681.93 848.54) scale(1.0202 1)" fill="#141414"><text x="0 7.9 11.84 19.74" font-size="14.2">0.07</text></g><g transform="translate(764.73 848.54) scale(1.0202 1)" fill="#141414"><text x="0 7.9 11.84 19.74" font-size="14.2">0.07</text></g><g transform="translate(258.75 887.8) scale(0.9600 1)" fill="#141414"><text x="0 6.23 20.45 32.01 43.56 58.68 66.68 75.58 79.13 87.13 96.03 99.59 108.48 112.93 121.83 135.17 144.07 156.52 165.41 174.31 184.09 188.53 200.09 213.41 224.97 230.3 239.2 248.09 256.99 270.34 279.23 288.13 291.69 300.59 309.48 313.04 316.59 325.49 334.39 346.84 351.28 360.18 369.95 381.51 390.41 393.96 397.52 406.41 411.74 420.64 433.98 442.88 451.78 465.12 473.12 482.02 490.92 496.25 508.7 523.81 532.71 541.61" font-size="16">*%RDAcalculatedasperICMR-2020guidelinesforChildren4–6years&amp;7–9</text></g><g transform="translate(258.96 912.2) scale(1.0016 1)" fill="#141414"><text x="0 8 16.9 25.8 31.12 39.12 48.02 54.24 60.47 74.7 86.25 97.8 112.92 121.82 130.72 139.61 148.51 156.51 160.95 169.85 178.75 182.3 185.86 193.86 202.76 211.66 220.55 229.45 240.12 249.02 257.91 263.24 272.14 281.04 286.37 289.92 298.82 303.27 316.61 325.51 333.51 342.41 347.73 356.63 365.53 374.43 386.88 395.77 404.67 413.57 422.47 431.37" font-size="16">years.**%RDAnotestablished.Appropriateoveragesadded.</text></g><g transform="translate(966.56 303.6) scale(1.1262 1)" fill="#22190a"><text x="0 12.85 27.7 37.6 47.5 57.4 67.3" font-size="17.8">Noadded</text></g><g transform="translate(967.26 325.3) scale(1.1132 1)" fill="#22190a"><text x="0 9.9 15.83 20.77 24.73 29.67 33.63 42.53 46.48 56.38" font-size="17.8">artificial</text></g><g transform="translate(967.57 347.4) scale(1.0714 1)" fill="#22190a"><text x="0 8.9 21.75 31.65 41.55 46.5 56.4 66.3 76.2 82.13" font-size="17.8">sweeteners</text></g><g transform="translate(20.75 433.9) scale(1.0678 1)" fill="#22190a"><text x="5.7 20.54 29.44 33.4 38.34 48.24 63.07 67.02 76.92" font-size="17.8">6vitamins</text><path d="M3.29,-12.25H4.81V0H3.29Z"/><path d="M1.57,-9.4L3.9,-11.57" fill="none" stroke="#22190a" stroke-width="1.44" stroke-linecap="round"/></g><g transform="translate(21.03 454.2) scale(1.0783 1)" fill="#22190a"><text x="0 16.82 31.65 35.6 45.5 55.4 61.33 71.23 75.18" font-size="17.8">&amp;minerals</text></g><g transform="translate(14.56 622.2) scale(1.0535 1)" fill="#22190a"><text x="0 12.85 16.81 26.71 41.55 45.51 60.35 69.25 73.21 83.11" font-size="17.8">Highinzinc</text></g><g transform="translate(15.44 643) scale(1.0539 1)" fill="#22190a"><text x="0 16.82 25.72 35.62 39.57 49.47 59.37 63.33 73.23" font-size="17.8">&amp;selenium</text></g>
</svg></body></html>
